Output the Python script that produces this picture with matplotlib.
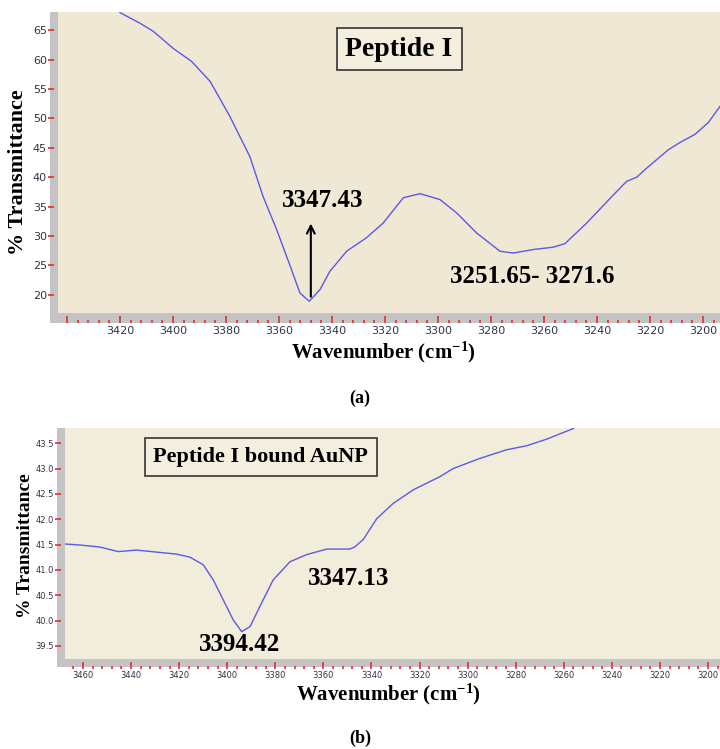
import matplotlib
matplotlib.use("Agg")
import matplotlib.pyplot as plt
from matplotlib.patches import Rectangle
from matplotlib.ticker import MultipleLocator

# spectrum (a): Peptide I
wn_a = [3420.0, 3412.5, 3407.4, 3399.9, 3393.0, 3386.0, 3378.5, 3371.0, 3366.0,
        3360.9, 3355.8, 3352.1, 3348.6, 3344.5, 3340.8, 3334.5, 3327.0, 3320.7,
        3313.1, 3306.8, 3299.3, 3292.9, 3285.4, 3276.6, 3271.6, 3264.0, 3256.5,
        3252.1, 3243.9, 3233.8, 3228.8, 3225.0, 3221.9, 3213.0, 3208.7, 3203.0,
        3198.0, 3193.5]
tr_a = [68.0, 66.2, 64.8, 61.9, 59.7, 56.3, 50.3, 43.5, 36.7,
        31.1, 24.9, 20.3, 18.9, 20.9, 24.0, 27.4, 29.7, 32.2,
        36.5, 37.2, 36.2, 33.9, 30.5, 27.4, 27.1, 27.7, 28.1,
        28.7, 32.2, 37.0, 39.3, 40.0, 41.3, 44.7, 45.9, 47.3,
        49.3, 52.1]

# spectrum (b): Peptide I bound AuNP
wn_b = [3467.5, 3461.3, 3453.0, 3445.3, 3437.7, 3429.4, 3421.0, 3415.5, 3410.0,
        3405.8, 3401.7, 3397.5, 3394.0, 3390.5, 3386.4, 3380.9, 3373.9, 3367.0,
        3358.6, 3349.0, 3347.0, 3343.4, 3337.8, 3331.0, 3322.6, 3311.5, 3306.0,
        3294.9, 3283.8, 3275.4, 3267.1, 3256.0]
tr_b = [41.51, 41.49, 41.45, 41.36, 41.39, 41.35, 41.31, 41.25, 41.10,
        40.80, 40.41, 40.01, 39.78, 39.88, 40.28, 40.80, 41.16, 41.30,
        41.41, 41.41, 41.45, 41.60, 42.01, 42.31, 42.58, 42.84, 43.00,
        43.20, 43.37, 43.45, 43.58, 43.79]

xticks_a = [3440, 3420, 3400, 3380, 3360, 3340, 3320, 3300, 3280, 3260, 3240,
            3220, 3200]
xlabels_a = ["", "3420", "3400", "3380", "3360", "3340", "3320", "3300",
             "3280", "3260", "3240", "3220", "3200"]
yticks_b = [39.5, 40.0, 40.5, 41.0, 41.5, 42.0, 42.5, 43.0, 43.5]

plt.rcParams["mathtext.fontset"] = "custom"
plt.rcParams["mathtext.rm"] = "Liberation Serif:bold"
plt.rcParams["mathtext.bf"] = "Liberation Serif:bold"
plt.rcParams["mathtext.default"] = "bf"

W, H = 720, 749
fig = plt.figure(figsize=(W / 100, H / 100), dpi=100)
serif = "Liberation Serif"
line_col = "#5a5ae6"
tick_col = "#e03030"
frame_col = "#c4c4c4"


def px_rect(x0, y0, x1, y1):
    # pixel box (top-left origin) -> figure fraction
    return [x0 / W, 1 - y1 / H, (x1 - x0) / W, (y1 - y0) / H]


def add_strip(x0, y0, x1, y1):
    l, b, w, h = px_rect(x0, y0, x1, y1)
    fig.add_artist(Rectangle((l, b), w, h, transform=fig.transFigure,
                             facecolor=frame_col, edgecolor="none", zorder=0))


def style_axes(ax, bg, xlim, ylim, ymajor, lsize, xpad):
    ax.set_facecolor(bg)
    ax.set_xlim(*xlim)
    ax.set_ylim(*ylim)
    for s in ["top", "right", "left", "bottom"]:
        ax.spines[s].set_visible(False)
    ax.spines["bottom"].set_position(("outward", 7))
    ax.spines["left"].set_position(("outward", 7))
    ax.xaxis.set_major_locator(MultipleLocator(20))
    ax.xaxis.set_minor_locator(MultipleLocator(4))
    ax.yaxis.set_major_locator(MultipleLocator(ymajor))
    ax.tick_params(axis="x", which="major", direction="in", length=5,
                   width=1.2, color=tick_col, labelsize=lsize,
                   labelcolor="#333344", pad=xpad)
    ax.tick_params(axis="x", which="minor", direction="in", length=2,
                   width=1.2, color=tick_col)
    ax.tick_params(axis="y", which="major", direction="in", length=4.5,
                   width=1.2, color=tick_col, labelsize=lsize,
                   labelcolor="#333344", pad=1)


xlab = "Wavenumber (cm$^{-1}$)"

# ---- panel (a) ----
add_strip(50, 12, 58, 323)
add_strip(50, 313, 720, 323)
ax1 = fig.add_axes(px_rect(58, 12, 720, 313))
style_axes(ax1, "#eee8d5", (3443.4, 3193.6), (16.9, 68.1), 5, 8, 2.5)
ax1.set_xticks(xticks_a)
ax1.set_xticklabels(xlabels_a)
ax1.plot(wn_a, tr_a, color=line_col, lw=1.0)
ax1.annotate("", xy=(3348, 32.6), xytext=(3348, 19.2),
             arrowprops=dict(arrowstyle="->", color="black", lw=1.5,
                             mutation_scale=14))
ax1.text(3343.5, 34.0, "3347.43", fontsize=18, fontweight="bold",
         family=serif, ha="center", va="bottom")
ax1.text(3264.5, 23.1, "3251.65- 3271.6", fontsize=18, fontweight="bold",
         family=serif, ha="center", va="center")
ax1.text(3314.7, 61.8, "Peptide I", fontsize=20, fontweight="bold",
         family=serif, ha="center", va="center",
         bbox=dict(boxstyle="square,pad=0.32", facecolor="#f3eedd",
                   edgecolor="#333333", lw=1.2))
fig.text(18 / W, 1 - 172 / H, "% Transmittance", rotation=90, fontsize=16,
         fontweight="bold", family=serif, ha="center", va="center")
fig.text(383 / W, 1 - 352 / H, xlab, fontsize=15, fontweight="bold",
         family=serif, ha="center", va="center")
fig.text(360 / W, 1 - 398 / H, "(a)", fontsize=13, fontweight="bold",
         family=serif, ha="center", va="center")

# ---- panel (b) ----
add_strip(57, 428, 65, 667)
add_strip(57, 659, 720, 667)
ax2 = fig.add_axes(px_rect(65, 428, 720, 659))
style_axes(ax2, "#f2eddb", (3467.5, 3195), (39.24, 43.8), 0.5, 6, 1.5)
ax2.set_yticks(yticks_b)
ax2.plot(wn_b, tr_b, color=line_col, lw=1.0)
ax2.text(3394.9, 39.52, "3394.42", fontsize=18, fontweight="bold",
         family=serif, ha="center", va="center")
ax2.text(3349.5, 40.82, "3347.13", fontsize=18, fontweight="bold",
         family=serif, ha="center", va="center")
ax2.text(3386, 43.23, "Peptide I bound AuNP", fontsize=16,
         fontweight="bold", family=serif, ha="center", va="center",
         bbox=dict(boxstyle="square,pad=0.4", facecolor="#f3eedd",
                   edgecolor="#333333", lw=1.2))
fig.text(26 / W, 1 - 546 / H, "% Transmittance", rotation=90, fontsize=14,
         fontweight="bold", family=serif, ha="center", va="center")
fig.text(388 / W, 1 - 694 / H, xlab, fontsize=15, fontweight="bold",
         family=serif, ha="center", va="center")
fig.text(360 / W, 1 - 738 / H, "(b)", fontsize=13, fontweight="bold",
         family=serif, ha="center", va="center")

fig.savefig("out.png", dpi=100, facecolor="white")
